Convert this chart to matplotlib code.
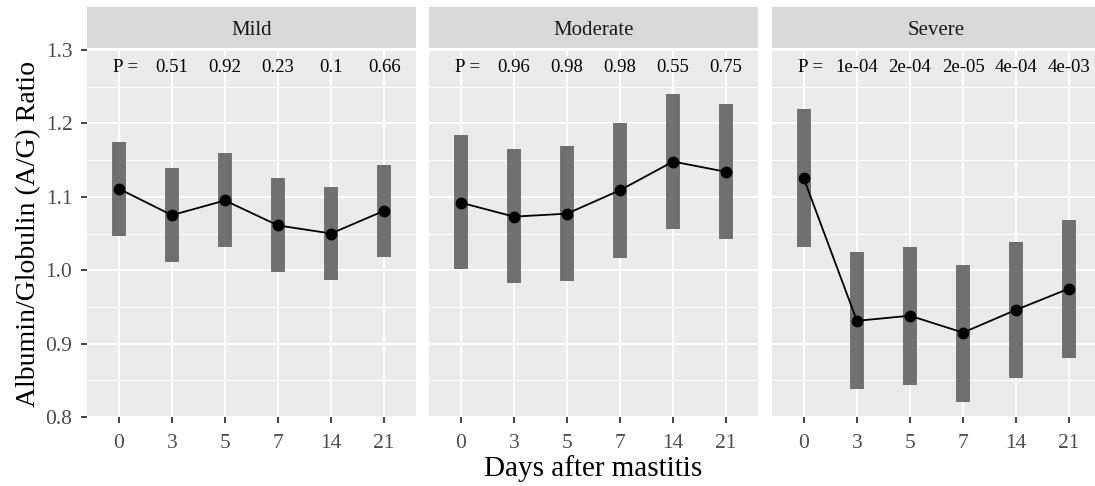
import matplotlib
matplotlib.use("Agg")
import matplotlib.pyplot as plt
import numpy as np

plt.rcParams['font.family'] = ['Liberation Serif', 'DejaVu Serif']

days = ['0', '3', '5', '7', '14', '21']
groups = ['Mild', 'Moderate', 'Severe']

# mean ratio and the interval bounds for each group
mild_mean = [1.111, 1.075, 1.095, 1.061, 1.050, 1.081]
mild_low = [1.046, 1.011, 1.031, 0.998, 0.987, 1.018]
mild_high = [1.175, 1.139, 1.159, 1.125, 1.113, 1.144]

moderate_mean = [1.092, 1.073, 1.077, 1.109, 1.148, 1.134]
moderate_low = [1.001, 0.982, 0.985, 1.017, 1.056, 1.042]
moderate_high = [1.184, 1.165, 1.169, 1.200, 1.240, 1.227]

severe_mean = [1.125, 0.931, 0.938, 0.915, 0.946, 0.975]
severe_low = [1.032, 0.838, 0.844, 0.821, 0.853, 0.881]
severe_high = [1.220, 1.025, 1.031, 1.007, 1.039, 1.068]

mild_p = ['0.51', '0.92', '0.23', '0.1', '0.66']
moderate_p = ['0.96', '0.98', '0.98', '0.55', '0.75']
severe_p = ['1e-04', '2e-04', '2e-05', '4e-04', '4e-03']

means = [mild_mean, moderate_mean, severe_mean]
lows = [mild_low, moderate_low, severe_low]
highs = [mild_high, moderate_high, severe_high]
pvals = [mild_p, moderate_p, severe_p]

W, H = 1095, 486
fig = plt.figure(figsize=(W / 100, H / 100), dpi=100)
fig.patch.set_facecolor('white')

panel_left = [87, 429, 772]
panel_w = 329
panel_top, panel_bottom = 50, 417
strip_top, strip_bottom = 7, 48

x = np.arange(len(days))

for i, g in enumerate(groups):
    l = panel_left[i]
    ax = fig.add_axes([l / W, 1 - panel_bottom / H, panel_w / W,
                       (panel_bottom - panel_top) / H])
    ax.set_facecolor('#ebebeb')
    ax.set_xlim(-0.6, 5.6)
    ax.set_ylim(0.8, 1.3)
    ax.set_xticks(x)
    ax.set_xticklabels(days)
    ax.set_yticks(np.arange(0.8, 1.31, 0.1))
    ax.set_yticks(np.arange(0.85, 1.3, 0.1), minor=True)
    ax.grid(which='major', color='white', linewidth=1.4)
    ax.grid(which='minor', axis='y', color='white', linewidth=0.7)
    ax.set_axisbelow(True)
    for s in ax.spines.values():
        s.set_visible(False)
    ax.tick_params(which='major', length=4.5, width=1.3, color='#333333',
                   labelsize=15.5, labelcolor='#4d4d4d')
    ax.tick_params(axis='x', pad=8)
    ax.tick_params(axis='y', pad=6)
    ax.tick_params(which='minor', length=0)
    if i == 0:
        ax.set_yticklabels(['0.8', '0.9', '1.0', '1.1', '1.2', '1.3'])
        ax.set_ylabel('Albumin/Globulin (A/G) Ratio', fontsize=20, labelpad=3)
    else:
        ax.tick_params(axis='y', which='both', left=False, labelleft=False)
    if i == 1:
        ax.set_xlabel('Days after mastitis', fontsize=21, labelpad=1)

    lo = np.array(lows[i])
    hi = np.array(highs[i])
    ax.vlines(x, lo, hi, color='#707070', linewidth=10, zorder=2)
    ax.plot(x, means[i], color='black', linewidth=1.3, marker='o',
            markersize=7.5, zorder=3)

    ax.text(0.17, 1.276, 'P = ', ha='center', va='center', fontsize=13.5)
    for j, p in enumerate(pvals[i]):
        ax.text(x[j + 1], 1.276, p, ha='center', va='center', fontsize=13.5)

    # facet strip
    sax = fig.add_axes([l / W, 1 - strip_bottom / H, panel_w / W,
                        (strip_bottom - strip_top) / H])
    sax.set_facecolor('#d9d9d9')
    sax.set_xticks([])
    sax.set_yticks([])
    for s in sax.spines.values():
        s.set_visible(False)
    sax.text(0.5, 0.42, g, ha='center', va='center', fontsize=15,
             color='#1a1a1a', transform=sax.transAxes)

fig.savefig('out.png', dpi=100)
